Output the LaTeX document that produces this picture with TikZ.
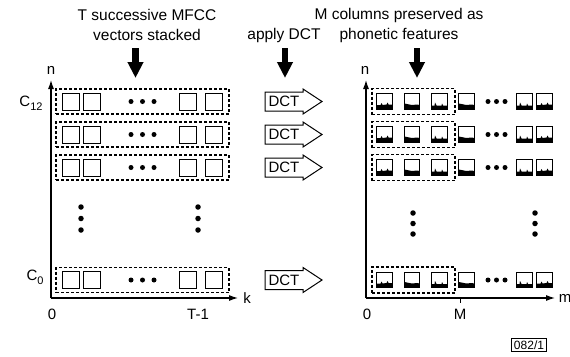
\documentclass[tikz,border=0pt]{standalone}
\usepackage{fontspec}
\setmainfont{Liberation Sans}
\usetikzlibrary{arrows.meta}
\newcommand\specA{(-7.75,7.75) -- (-7.75,3.5) -- (-4,3.5) -- (-3,1.5) -- (-2,3.5) -- (2,3) -- (3,1) -- (4,3) -- (7.75,3) -- (7.75,7.75) -- cycle}
\newcommand\specB{(-7.75,7.75) -- (-7.75,2) -- (-5,2.5) -- (0,3.5) -- (5,3) -- (7.75,3.5) -- (7.75,7.75) -- cycle}
\newcommand\specC{(-7.75,7.75) -- (-7.75,4) -- (-5,4) -- (-4.5,1) -- (-3,4) -- (2,4) -- (2.5,2) -- (3.5,4) -- (7.75,4) -- (7.75,7.75) -- cycle}
\begin{document}
\begin{tikzpicture}[x=1pt,y=-1pt,
  lbl/.style={font=\fontsize{15.5}{20}\selectfont, align=center, inner sep=0},
  axlbl/.style={font=\fontsize{15}{16}\selectfont, inner sep=0},
  rowbox/.style={draw, line width=1.2pt, dash pattern=on 3pt off 2pt},
  lsq/.style={draw, line width=1pt, minimum size=17pt, inner sep=0},
  rsq/.style={draw, line width=1.2pt, minimum size=15.5pt, inner sep=0},
  dotn/.style={circle, fill, inner sep=0, minimum size=5pt},
  axisline/.style={line width=1.1pt, -{Latex[length=9pt,width=6pt]}},
  bigarrow/.style={line width=6.6pt, -{Triangle[length=16pt,width=15pt]}},
  dctshape/.style={draw, line width=1pt, fill=white},
  dcttext/.style={font=\fontsize{15}{16}\selectfont, inner sep=0}]
\path[use as bounding box, fill=white] (0,0) rectangle (570,356);

% titles
\node[lbl] (t1) at (147,25) {T successive MFCC\\vectors stacked};
\node[lbl] (t2) at (284,35) {apply DCT};
\node[lbl] (t3) at (399,25) {M columns preserved as\\phonetic features};
\coordinate (a1s) at (135.5,48); \coordinate (a1e) at (135.5,78);
\coordinate (a2s) at (285,48);   \coordinate (a2e) at (285,78);
\coordinate (a3s) at (417,48);   \coordinate (a3e) at (417,78);
\draw[bigarrow] (a1s) -- (a1e);
\draw[bigarrow] (a2s) -- (a2e);
\draw[bigarrow] (a3s) -- (a3e);

% left axes
\coordinate (o1) at (51,298);
\coordinate (n1) at (51,80);
\coordinate (k1) at (238,298);
\draw[axisline] (o1) -- (n1);
\draw[axisline] (o1) -- (k1);
\node[axlbl] (ln1) at (51,70) {n};
\node[axlbl] (lk1) at (247,298) {k};
\node[axlbl] (l01) at (52,314) {0};
\node[axlbl] (lT1) at (198,314) {T-1};
\node[axlbl, font=\fontsize{15}{16}\selectfont] (lc12) at (31,103) {C\raisebox{-4pt}{\fontsize{11}{11}\selectfont 12}};
\node[axlbl, font=\fontsize{15}{16}\selectfont] (lc0) at (35,277) {C\raisebox{-4pt}{\fontsize{11}{11}\selectfont 0}};

% right axes
\coordinate (o2) at (366,298);
\coordinate (n2) at (366,80);
\coordinate (m2) at (555,298);
\draw[axisline] (o2) -- (n2);
\draw[axisline] (o2) -- (m2);
\coordinate (tk) at (460,298);
\draw[line width=1pt] (tk) -- ++(0,5);
\node[axlbl] (ln2) at (365,70) {n};
\node[axlbl] (lm2) at (565,298) {m};
\node[axlbl] (l02) at (367,314) {0};
\node[axlbl] (lM2) at (460,314) {M};

% rows
\foreach \y [count=\i] in {101.5,134.5,167.5,280} {
  % left
  \node[rowbox, minimum width=173pt, minimum height=25pt, inner sep=0] (LB\i) at (142.5,\y) {};
  \node[lsq] (L\i a) at (70.5,\y) {};
  \node[lsq] (L\i b) at (91.5,\y) {};
  \node[lsq] (L\i c) at (188,\y) {};
  \node[lsq] (L\i d) at (213.5,\y) {};
  \node[dotn] (L\i p) at (131,\y) {};
  \node[dotn] (L\i q) at (142.5,\y) {};
  \node[dotn] (L\i r) at (154,\y) {};
  % DCT arrow
  \draw[dctshape] (265,\y-9.5) -- (303,\y-9.5) -- (303,\y-12.5) -- (322,\y) -- (303,\y+12.5) -- (303,\y+9.5) -- (265,\y+9.5) -- cycle;
  \node[dcttext] (D\i) at (284,\y) {DCT};
  % right
  \node[rowbox, minimum width=83pt, minimum height=26pt, inner sep=0] (RB\i) at (413.5,\y) {};
  \foreach \x/\v [count=\j] in {384.5/A,412/B,439.5/C,466.5/B,524.5/C,544.5/A} {
    \node[rsq] (R\i-\j) at (\x,\y) {};
    \fill[shift={(\x,\y)}] \csname spec\v\endcsname;
  }
  \node[dotn] (R\i p) at (488,\y) {};
  \node[dotn] (R\i q) at (496.5,\y) {};
  \node[dotn] (R\i r) at (505,\y) {};
}

% vertical dots
\foreach \x/\a/\b/\c in {81/207/218.5/230, 198/207/218.5/230, 413/213/223.5/234, 535/213/223.5/234} {
  \node[dotn, minimum size=5.5pt] at (\x,\a) {};
  \node[dotn, minimum size=5.5pt] at (\x,\b) {};
  \node[dotn, minimum size=5.5pt] at (\x,\c) {};
}

\node[draw, line width=1pt, font=\fontsize{12}{13}\selectfont, inner sep=2pt] (ref) at (529,345) {082/1};
\end{tikzpicture}
\end{document}
